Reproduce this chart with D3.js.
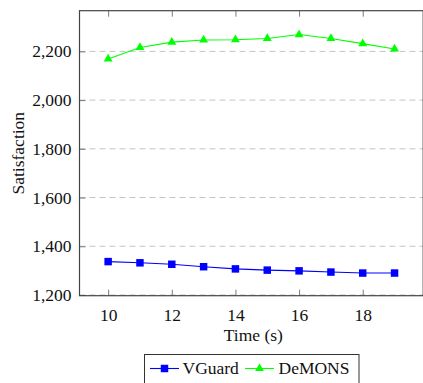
<!DOCTYPE html>
<html>
<head>
<meta charset="utf-8">
<script src="https://cdn.jsdelivr.net/npm/d3@7/dist/d3.min.js"></script>
<style>
  html, body { margin: 0; padding: 0; background: #fff; }
  svg { display: block; }
  svg text { font-family: "Liberation Serif", "DejaVu Serif", serif !important; fill: #111; }
</style>
</head>
<body>
<svg id="chart" width="423" height="383"></svg>
<script>
// Satisfaction over time for the two schemes
const times = [10, 11, 12, 13, 14, 15, 16, 17, 18, 19];
const vguard = [1337, 1332, 1326, 1316, 1307, 1302, 1299, 1294, 1290, 1290];
const demons = [2169, 2216, 2238, 2247, 2248, 2253, 2269, 2253, 2232, 2210];
const xTicks = [10, 12, 14, 16, 18];
const yTicks = [1200, 1400, 1600, 1800, 2000, 2200];
const seriesNames = ["VGuard", "DeMONS"];

const svg = d3.select("#chart");
const plotLeft = 79.5, plotRight = 423.2, plotTop = 10.7, plotBottom = 295.7;
const fontSize = 17.5;

const x = d3.scaleLinear().domain([9.1, 19.9]).range([plotLeft, plotRight]);
const y = d3.scaleLinear().domain([1197, 2367]).range([plotBottom, plotTop]);

// dashed horizontal grid
svg.append("g").selectAll("line").data(yTicks).join("line")
  .attr("x1", plotLeft).attr("x2", plotRight)
  .attr("y1", d => y(d)).attr("y2", d => y(d))
  .attr("stroke", "#c4c4c4").attr("stroke-width", 1)
  .attr("stroke-dasharray", "6,4");

// bottom axis with labels, ticks pointing inward
const xAxis = d3.axisBottom(x).tickValues(xTicks).tickSize(-6).tickPadding(13)
  .tickFormat(d3.format("d"));
const gx = svg.append("g").attr("transform", `translate(0,${plotBottom})`).call(xAxis);
gx.attr("font-family", null).attr("font-size", null);
gx.select(".domain").remove();
gx.selectAll(".tick line").attr("stroke", "#7a7a7a");
gx.selectAll(".tick text").attr("font-size", fontSize).attr("fill", "#111");

// top axis: ticks only
const gxTop = svg.append("g").attr("transform", `translate(0,${plotTop})`)
  .call(d3.axisTop(x).tickValues(xTicks).tickSize(-6).tickFormat(""));
gxTop.select(".domain").remove();
gxTop.selectAll(".tick line").attr("stroke", "#7a7a7a");

// left axis with labels
const yAxis = d3.axisLeft(y).tickValues(yTicks).tickSize(-6).tickPadding(8)
  .tickFormat(d3.format(","));
const gy = svg.append("g").attr("transform", `translate(${plotLeft},0)`).call(yAxis);
gy.attr("font-family", null).attr("font-size", null);
gy.select(".domain").remove();
gy.selectAll(".tick line").attr("stroke", "#7a7a7a");
gy.selectAll(".tick text").attr("font-size", fontSize).attr("fill", "#111");

// frame
svg.append("rect")
  .attr("x", plotLeft).attr("y", plotTop)
  .attr("width", plotRight - plotLeft).attr("height", plotBottom - plotTop)
  .attr("fill", "none").attr("stroke", "#444").attr("stroke-width", 1.2);

const line = d3.line().x((d, i) => x(times[i])).y(d => y(d));

// square marker and triangle marker shapes
const square = d3.symbol().type(d3.symbolSquare).size(56);
const triangle = d3.symbol().type(d3.symbolTriangle).size(34);

// VGuard series
svg.append("path").datum(vguard).attr("d", line)
  .attr("fill", "none").attr("stroke", "#0000ff").attr("stroke-width", 1.1);
svg.append("g").selectAll("path").data(vguard).join("path")
  .attr("d", square)
  .attr("transform", (d, i) => `translate(${x(times[i])},${y(d)})`)
  .attr("fill", "#0000ff");

// DeMONS series
svg.append("path").datum(demons).attr("d", line)
  .attr("fill", "none").attr("stroke", "#00ff00").attr("stroke-width", 1.1);
svg.append("g").selectAll("path").data(demons).join("path")
  .attr("d", triangle)
  .attr("transform", (d, i) => `translate(${x(times[i])},${y(d)})`)
  .attr("fill", "#00ff00");

// axis titles
svg.append("text")
  .attr("x", (plotLeft + plotRight) / 2 + 2).attr("y", 341)
  .attr("text-anchor", "middle").attr("font-size", fontSize)
  .text("Time (s)");
svg.append("text")
  .attr("transform", `translate(24,${(plotTop + plotBottom) / 2}) rotate(-90)`)
  .attr("text-anchor", "middle").attr("font-size", fontSize)
  .text("Satisfaction");

// legend
const lg = svg.append("g");
lg.append("rect").attr("x", 144.5).attr("y", 354.5)
  .attr("width", 214.5).attr("height", 40)
  .attr("fill", "#fff").attr("stroke", "#333").attr("stroke-width", 1);
const legendY = 368.5;
const entries = [
  { name: seriesNames[0], color: "#0000ff", shape: square, x0: 150, tx: 182.5 },
  { name: seriesNames[1], color: "#00ff00", shape: triangle, x0: 245, tx: 278.5 }
];
entries.forEach(e => {
  lg.append("line").attr("x1", e.x0).attr("x2", e.x0 + 29)
    .attr("y1", legendY).attr("y2", legendY)
    .attr("stroke", e.color).attr("stroke-width", 1.1);
  lg.append("path").attr("d", e.shape)
    .attr("transform", `translate(${e.x0 + 14.5},${legendY})`)
    .attr("fill", e.color);
  lg.append("text").attr("x", e.tx).attr("y", 373.5)
    .attr("font-size", fontSize).text(e.name);
});
</script>
</body>
</html>
